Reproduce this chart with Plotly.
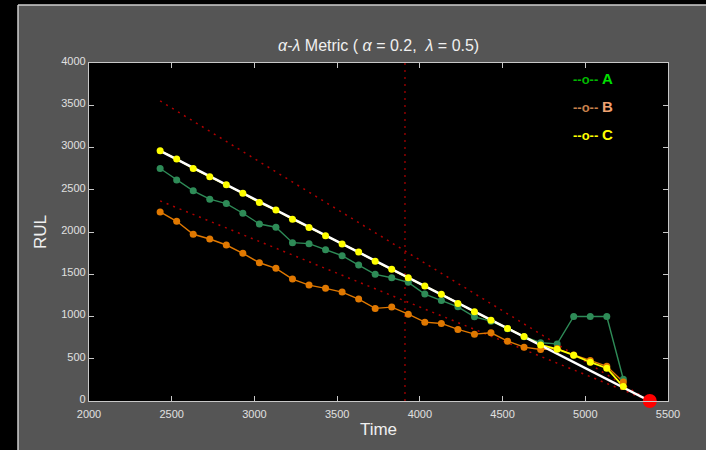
import plotly.graph_objects as go

# ---- data ----
time = [2430, 2530, 2630, 2730, 2830, 2930, 3030, 3130, 3230, 3330, 3430, 3530, 3630, 3730, 3830,
        3930, 4030, 4130, 4230, 4330, 4430, 4530, 4630, 4730, 4830, 4930, 5030, 5130, 5230]
rul_A = [2751, 2614, 2487, 2388, 2336, 2222, 2095, 2056, 1874, 1862, 1791, 1719, 1609, 1499, 1459,
         1404, 1265, 1190, 1115, 996, 945, 855, 760, 690, 676, 1000, 1000, 1000, 257]
rul_B = [2238, 2127, 1973, 1917, 1846, 1748, 1636, 1570, 1443, 1372, 1333, 1289, 1206, 1096, 1111,
         1028, 933, 918, 847, 791, 807, 708, 637, 609, 620, 545, 480, 410, 225]
rul_C = [2962, 2863, 2751, 2653, 2558, 2459, 2348, 2261, 2151, 2052, 1957, 1858, 1763, 1653, 1558,
         1459, 1360, 1262, 1155, 1056, 957, 858, 764, 664, 613, 542, 459, 388, 171]
truth_t = [2430, 5390]
truth_rul = [2960, 0]
upper_rul = [3552, 0]
lower_rul = [2368, 0]
lam_t = [3910, 3910]
lam_rul = [0, 4000]
eol_t = [5390]
eol_rul = [0]
x_ticks = [2000, 2500, 3000, 3500, 4000, 4500, 5000, 5500]
y_ticks = [0, 500, 1000, 1500, 2000, 2500, 3000, 3500, 4000]
legend_names = ["A", "B", "C"]
legend_marker_colors = ["#00b800", "#c8804c", "#ffff00"]
legend_text_colors = ["#00e000", "#f0a070", "#ffff00"]

red_dot = "#b00000"
fig = go.Figure()

# alpha bounds and lambda line
for yy in (upper_rul, lower_rul):
    fig.add_trace(go.Scatter(x=truth_t, y=yy, mode="lines",
                             line=dict(color=red_dot, width=1.5, dash="2px,5px"),
                             showlegend=False))
fig.add_trace(go.Scatter(x=lam_t, y=lam_rul, mode="lines",
                         line=dict(color="#900000", width=1.5, dash="2px,5px"),
                         showlegend=False))

series = [(rul_A, "#2e8b57"), (rul_B, "#e07800"), (rul_C, "#ffff00")]
for vals, col in series:
    fig.add_trace(go.Scatter(x=time, y=vals, mode="lines",
                             line=dict(color=col, width=1.4 if col != "#ffff00" else 1.8),
                             showlegend=False))

# ground truth
fig.add_trace(go.Scatter(x=truth_t, y=truth_rul, mode="lines",
                         line=dict(color="#ffffff", width=2.5), showlegend=False))

for vals, col in series:
    fig.add_trace(go.Scatter(x=time, y=vals, mode="markers",
                             marker=dict(color=col, size=7, line=dict(width=0)),
                             showlegend=False))

fig.add_trace(go.Scatter(x=eol_t, y=eol_rul, mode="markers",
                         marker=dict(color="#ff0000", size=14), cliponaxis=False,
                         showlegend=False))

# legend as text
for i, name in enumerate(legend_names):
    fig.add_annotation(xref="paper", yref="paper", x=0.833, y=0.955 - i * 0.084,
                       xanchor="left", yanchor="middle", showarrow=False,
                       text=("<span style='color:" + legend_marker_colors[i] + "'><b>--o--</b></span> "
                             "<span style='font-size:15px'><b>" + name + "</b></span>"),
                       font=dict(family="Liberation Sans, Arial", size=13,
                                 color=legend_text_colors[i]))

# panel decorations (black outer border + light frame line)
fig.add_shape(type="rect", xref="paper", yref="paper", x0=-0.3, x1=1.2, y0=1.1716, y1=1.3,
              fillcolor="#000000", line=dict(width=0), layer="above")
fig.add_shape(type="rect", xref="paper", yref="paper", x0=-0.3, x1=-0.1226, y0=-0.3, y1=1.3,
              fillcolor="#000000", line=dict(width=0), layer="above")
fig.add_shape(type="line", xref="paper", yref="paper", x0=-0.1226, x1=1.2, y0=1.1716, y1=1.1716,
              line=dict(color="#cfcfcf", width=1.5), layer="above")
fig.add_shape(type="line", xref="paper", yref="paper", x0=-0.1226, x1=-0.1226, y0=-0.3, y1=1.1716,
              line=dict(color="#cfcfcf", width=1.5), layer="above")

axis_common = dict(showgrid=False, zeroline=False, showline=True, linecolor="#c8c8c8",
                   linewidth=1.2, mirror="ticks", ticks="inside", ticklen=5,
                   tickcolor="#c8c8c8", tickfont=dict(family="Liberation Sans, Arial",
                                                      size=11, color="#e0e0e0"))

fig.update_layout(
    width=706, height=450,
    margin=dict(l=89, r=38, t=63, b=49),
    paper_bgcolor="#555555", plot_bgcolor="#000000",
    title=dict(text="<i>α</i>-<i>λ</i> Metric ( <i>α</i> = 0.2,  <i>λ</i> = 0.5)",
               x=0.5363, xanchor="center", y=0.9, yanchor="middle",
               font=dict(family="Liberation Sans, Arial", size=16, color="#f0f0f0")),
    xaxis=dict(range=[2000, 5500], tickvals=x_ticks, ticktext=[str(v) for v in x_ticks],
               ticklabelstandoff=3,
               title=dict(text="Time", font=dict(family="Liberation Sans, Arial", size=17,
                                                 color="#f0f0f0"), standoff=3),
               **axis_common),
    yaxis=dict(range=[0, 4000], tickvals=y_ticks, ticktext=[str(v) for v in y_ticks],
               ticklabelshift=-2,
               title=dict(text="RUL", font=dict(family="Liberation Sans, Arial", size=17,
                                                color="#f0f0f0"), standoff=10),
               **axis_common),
    showlegend=False,
)

fig.write_html("out.html", config={"displayModeBar": False},
               post_script="document.body.style.margin='0';")
